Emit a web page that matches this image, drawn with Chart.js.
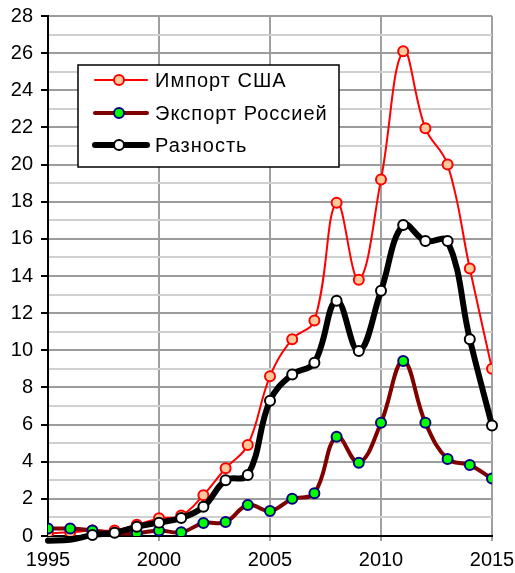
<!DOCTYPE html>
<html>
<head>
<meta charset="utf-8">
<script src="https://cdn.jsdelivr.net/npm/chart.js@4/dist/chart.umd.min.js"></script>
<style>
html, body { margin: 0; padding: 0; background: #fff; }
canvas { display: block; }
</style>
</head>
<body>
<canvas id="chart" width="515" height="573"></canvas>
<script>
// Данные
const years = [1995, 1996, 1997, 1998, 1999, 2000, 2001, 2002, 2003, 2004, 2005,
               2006, 2007, 2008, 2009, 2010, 2011, 2012, 2013, 2014, 2015];
const importUsa = [0.15, 0.2, 0.3, 0.3, 0.6, 0.95, 1.1, 2.2, 3.65, 4.9, 8.6,
                   10.6, 11.6, 17.95, 13.8, 19.2, 26.1, 21.95, 20.0, 14.4, 9.0];
const exportRus = [0.4, 0.4, 0.3, 0.15, 0.15, 0.3, 0.2, 0.7, 0.75, 1.67, 1.35,
                   2.0, 2.3, 5.35, 3.95, 6.1, 9.42, 6.1, 4.15, 3.82, 3.09];
const diff = [-0.25, -0.2, 0.05, 0.18, 0.5, 0.72, 0.97, 1.57, 3.0, 3.28, 7.28,
              8.7, 9.33, 12.67, 9.96, 13.2, 16.75, 15.88, 15.88, 10.6, 5.95];
const seriesNames = ['Импорт США', 'Экспорт Россией', 'Разность'];

const FONT = '"Liberation Sans", Arial, sans-serif';

function toPoints(values) {
    return values.map((v, i) => ({ x: years[i], y: v }));
}

// Легенда в рамке внутри области графика
const legendBox = {
    id: 'legendBox',
    afterDraw(chart) {
        const ctx = chart.ctx;
        ctx.save();
        ctx.fillStyle = '#fff';
        ctx.fillRect(78, 65, 261, 102);
        ctx.lineWidth = 1.5;
        ctx.strokeStyle = '#000';
        ctx.strokeRect(78, 65, 261, 102);
        const rows = [80, 113, 145];
        chart.data.datasets.forEach((ds, i) => {
            const y = rows[i];
            ctx.beginPath();
            ctx.moveTo(95, y);
            ctx.lineTo(147, y);
            ctx.strokeStyle = ds.borderColor;
            ctx.lineWidth = ds.borderWidth;
            ctx.lineCap = 'round';
            ctx.stroke();
            ctx.beginPath();
            ctx.arc(119, y, 5, 0, Math.PI * 2);
            ctx.fillStyle = ds.pointBackgroundColor;
            ctx.fill();
            ctx.lineWidth = ds.pointBorderWidth;
            ctx.strokeStyle = ds.pointBorderColor;
            ctx.stroke();
            ctx.fillStyle = '#000';
            ctx.font = '20px ' + FONT;
            ctx.letterSpacing = '1px';
            ctx.textBaseline = 'middle';
            ctx.fillText(ds.label, 155, y + 1);
        });
        ctx.restore();
    }
};

new Chart(document.getElementById('chart'), {
    type: 'line',
    data: {
        datasets: [
            {
                label: seriesNames[0],
                data: toPoints(importUsa),
                borderColor: '#ff0000',
                borderWidth: 2,
                pointBackgroundColor: '#ffc99a',
                pointBorderColor: '#ff0000',
                pointBorderWidth: 2,
                pointRadius: 5,
                tension: 0.4,
                order: 3
            },
            {
                label: seriesNames[1],
                data: toPoints(exportRus),
                borderColor: '#800000',
                borderWidth: 4,
                pointBackgroundColor: '#00ff00',
                pointBorderColor: '#000080',
                pointBorderWidth: 2,
                pointRadius: 5,
                tension: 0.4,
                order: 2
            },
            {
                label: seriesNames[2],
                data: toPoints(diff),
                borderColor: '#000000',
                borderWidth: 6,
                pointBackgroundColor: '#ffffff',
                pointBorderColor: '#000000',
                pointBorderWidth: 2,
                pointRadius: ctx => (ctx.raw && ctx.raw.y < 0 ? 0 : 5),
                tension: 0.4,
                clip: false,
                order: 1
            }
        ]
    },
    plugins: [legendBox],
    options: {
        responsive: false,
        animation: false,
        layout: { padding: { top: 16, right: 23, left: 0, bottom: 0 } },
        elements: { line: { borderCapStyle: 'round', borderJoinStyle: 'round' } },
        plugins: { legend: { display: false }, tooltip: { enabled: false } },
        scales: {
            x: {
                type: 'linear',
                min: 1995,
                max: 2015,
                afterFit: s => {
                    s.height = 37;
                    s.paddingLeft = 0;
                    s.paddingRight = 0;
                },
                ticks: {
                    stepSize: 5,
                    color: '#000',
                    padding: 7,
                    maxRotation: 0,
                    font: { family: FONT, size: 20 },
                    callback: v => String(v)
                },
                grid: { color: '#a0a0a0', lineWidth: 2, tickLength: 5, tickColor: '#a0a0a0' },
                border: { color: '#000', width: 2 }
            },
            y: {
                min: 0,
                max: 28,
                afterFit: s => {
                    s.width = 48;
                    s.paddingTop = 0;
                    s.paddingBottom = 0;
                },
                ticks: {
                    stepSize: 1,
                    autoSkip: false,
                    color: '#000',
                    padding: 8,
                    font: { family: FONT, size: 20 },
                    callback: v => (v % 2 === 0 ? v : '')
                },
                grid: {
                    color: ctx => (ctx.tick && ctx.tick.value % 2 !== 0 ? '#d0d0d0' : '#9c9c9c'),
                    tickColor: ctx => (ctx.tick && ctx.tick.value % 2 !== 0 ? 'rgba(0,0,0,0)' : '#000'),
                    lineWidth: 2,
                    tickLength: 7
                },
                border: { color: '#000', width: 2 }
            }
        }
    }
});
</script>
</body>
</html>
